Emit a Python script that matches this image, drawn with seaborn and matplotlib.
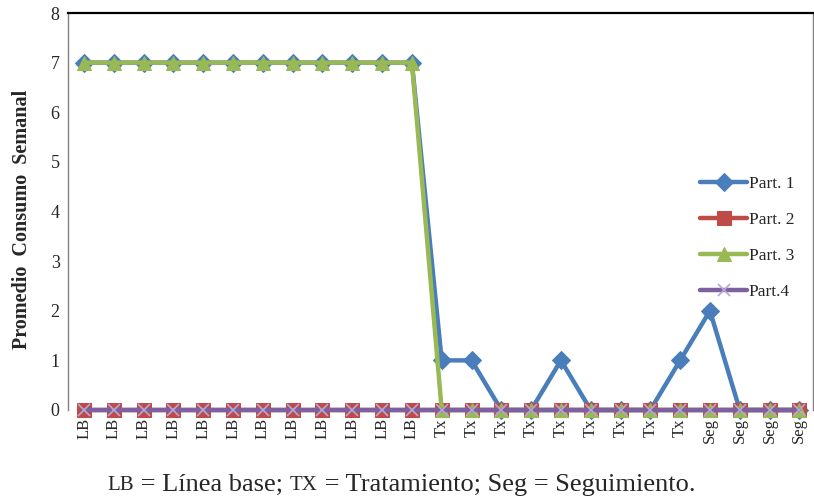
import matplotlib
matplotlib.use("Agg")
import matplotlib.pyplot as plt
import seaborn as sns
import pandas as pd

phases = ["LB"] * 12 + ["Tx"] * 9 + ["Seg"] * 4
part1 = [7] * 12 + [1, 1, 0, 0, 1, 0, 0, 0, 1] + [2, 0, 0, 0]
part2 = [0] * 25
part3 = [7] * 12 + [0] * 9 + [0] * 4
part4 = [0] * 25
series_names = ["Part. 1", "Part. 2", "Part. 3", "Part.4"]
caption_parts = [("LB", True), (" = Línea base; ", False), ("TX", True),
                 (" = Tratamiento; Seg = Seguimiento.", False)]

sns.set_theme(style="white")
plt.rcParams["font.family"] = ["Liberation Serif", "DejaVu Serif"]

fig = plt.figure(figsize=(8.14, 5.0), dpi=100)
ax = fig.add_axes([0.0835, 0.18, 0.915, 0.794])

idx = list(range(len(phases)))
styles = [
    dict(color="#4A7EBB", marker="D", markersize=9, mec="#4A7EBB"),
    dict(color="#BE4B48", marker="s", markersize=9.5, mec="#BE4B48"),
    dict(color="#98B954", marker="^", markersize=10.5, mec="#98B954"),
    dict(color="#7D60A0", marker="x", markersize=9, mec="#B9A6D3", mew=1.2),
]
for name, vals, st in zip(series_names, [part1, part2, part3, part4], styles):
    df = pd.DataFrame({"i": idx, "v": vals})
    sns.lineplot(data=df, x="i", y="v", ax=ax, sort=False, lw=3.2,
                 label=name, clip_on=False, **st)

ax.set_xlim(-0.54, 24.45)
ax.set_ylim(0, 8)
ax.set_yticks(range(0, 9))
ax.set_yticklabels([str(i) for i in range(0, 9)], fontsize=13)
ax.set_xticks(idx)
ax.set_xticklabels(phases, rotation=90, fontsize=12)
ax.tick_params(axis="both", length=0, pad=6)
ax.set_xlabel("")
ax.set_ylabel("Promedio  Consumo  Semanal", fontsize=14.5, fontweight="bold")
ax.yaxis.set_label_coords(-0.048, 0.48)

for s in ["left", "right"]:
    ax.spines[s].set_color("#808080")
    ax.spines[s].set_linewidth(1.0)
ax.spines["top"].set_color("black")
ax.spines["top"].set_linewidth(1.6)
ax.spines["bottom"].set_visible(False)

leg = ax.legend(loc="upper left", bbox_to_anchor=(0.828, 0.63), frameon=False,
                fontsize=12.5, handlelength=2.7, handletextpad=0.1,
                labelspacing=1.15)

# caption with small caps for abbreviations
renderer = fig.canvas.get_renderer()
big, small = 19, 15
texts = []
for s, sc in caption_parts:
    t = fig.text(0, 0.03, s, fontsize=small if sc else big, va="center", ha="left")
    texts.append(t)
widths = [t.get_window_extent(renderer).width for t in texts]
total = sum(widths)
x0 = 0.493 * fig.bbox.width - total / 2
for t, w in zip(texts, widths):
    t.set_x(x0 / fig.bbox.width)
    x0 += w

fig.savefig("out.png", dpi=100)
